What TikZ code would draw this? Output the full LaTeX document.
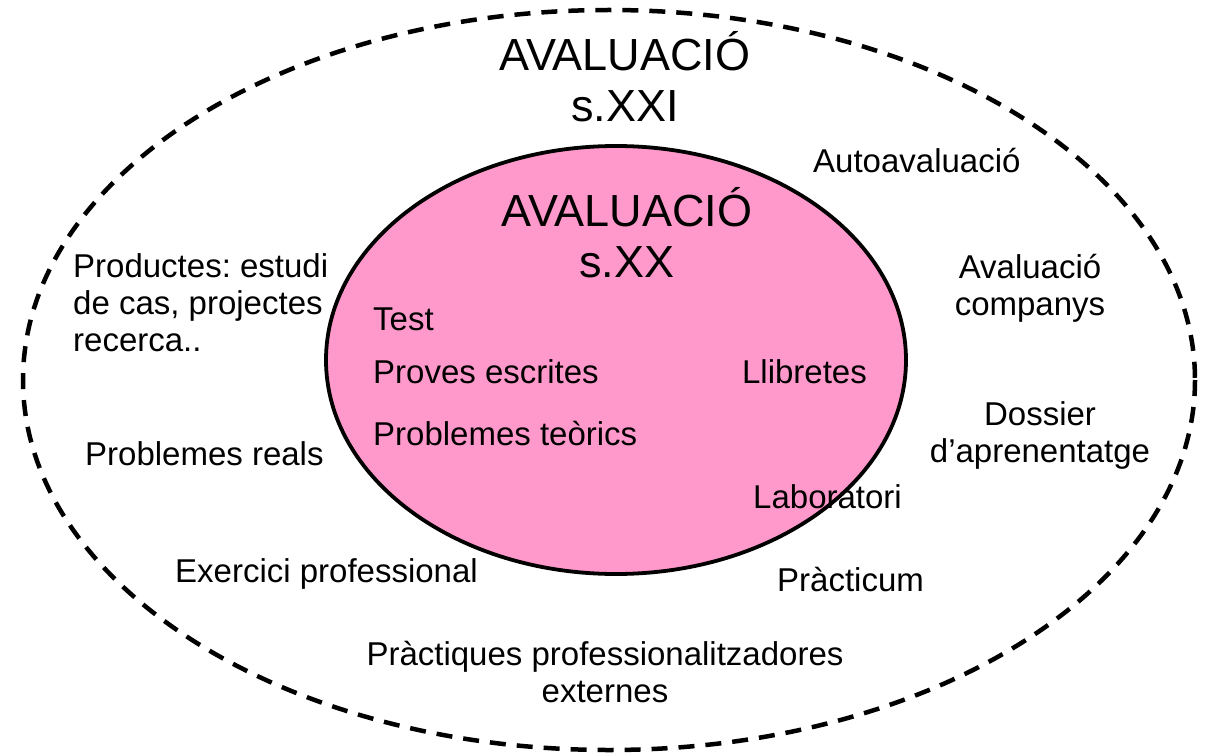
\documentclass[tikz,border=0pt]{standalone}
\usepackage{fontspec}
\setmainfont{Liberation Sans}
\usepackage{tikz}
\usetikzlibrary{arrows,shapes,positioning}
\definecolor{rosa}{rgb}{1,0.6,0.8}
\newcommand{\gran}{\fontsize{45}{51}\selectfont}
\newcommand{\petit}{\fontsize{33}{37}\selectfont}
\frenchspacing

\begin{document}
\begin{tikzpicture}[x=1pt,y=-1pt,inner sep=0pt,
  etiq/.style={font=\petit,align=center},
  titol/.style={font=\gran,align=center}]
\useasboundingbox (0,0) rectangle (1207,754);
\draw[line width=4.5pt, dash pattern=on 16pt off 11pt] (609,380) ellipse (586 and 370);
\filldraw[fill=rosa, draw=black, line width=3.8pt] (616,360) ellipse (290 and 214);

\node[titol,anchor=base] (titolXXI) at (625,122) {AVALUACIÓ\\s.XXI};
\node[titol,anchor=base] (titolXX) at (627,277) {AVALUACIÓ\\s.XX};

\foreach \t/\y/\nom in {Test/330/test,Proves escrites/383/proves,Problemes teòrics/445/teorics}
	\node[etiq,anchor=base west] (\nom) at (373,\y) {\t};

\node[etiq,anchor=base east] (llibretes) at (867,383) {Llibretes};
\node[etiq,anchor=base west] (laboratori) at (753,508) {Laboratori};
\node[etiq,anchor=base west] (practicum) at (777,591) {Pràcticum};
\node[etiq,anchor=base west] (autoaval) at (813,173) {Autoavaluació};
\node[etiq,anchor=base] (companys) at (1030,315) {Avaluació\\companys};
\node[etiq,anchor=base] (dossier) at (1040,462) {Dossier\\d’aprenentatge};
\node[etiq,anchor=base west,align=left] (productes) at (73,351) {Productes: estudi\\de cas, projectes\\recerca..};
\node[etiq,anchor=base west] (reals) at (85,465) {Problemes reals};
\node[etiq,anchor=base west] (exercici) at (175,582) {Exercici professional};
\node[etiq,anchor=base] (practiques) at (605,702) {Pràctiques professionalitzadores\\externes};
\end{tikzpicture}
\end{document}
